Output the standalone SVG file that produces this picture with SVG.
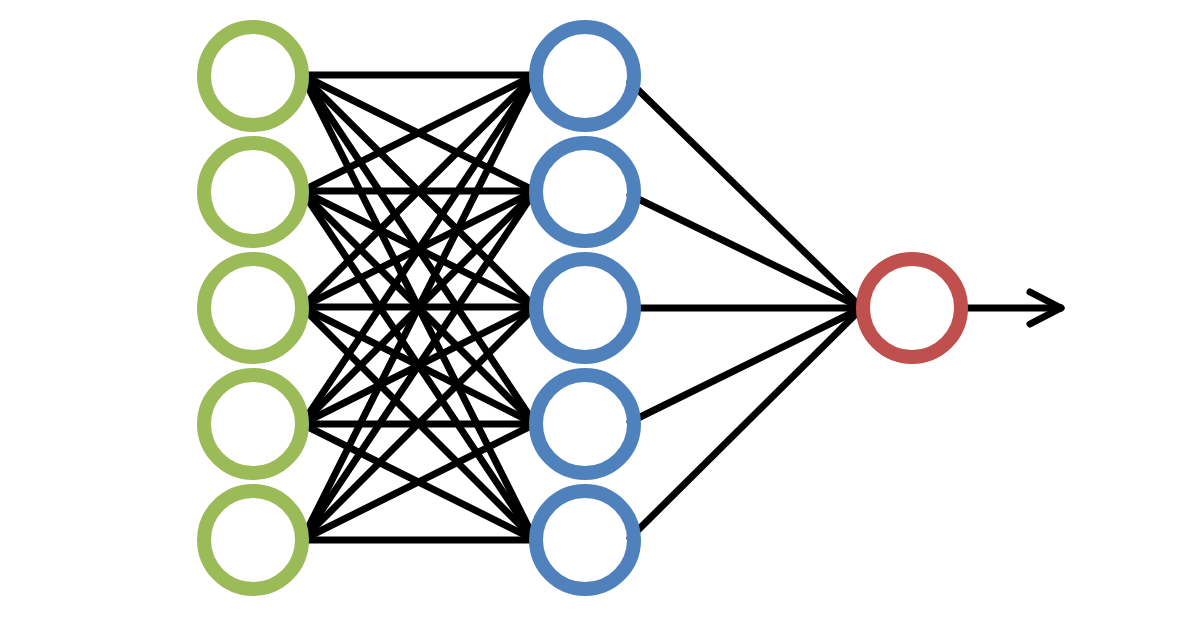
<svg xmlns="http://www.w3.org/2000/svg" width="1200" height="625" viewBox="0 0 1200 625">
<style>
.n{fill:none;stroke-width:14}
.g{stroke:#9bbb59}.b{stroke:#4f81bd}.r{stroke:#c0504d}
#edges line{stroke:#000;stroke-width:7;stroke-linecap:round}
</style>
<rect width="1200" height="625" fill="#fff"/>
<g id="edges">
<line x1="302" y1="75" x2="535" y2="75"/><line x1="302" y1="75" x2="535" y2="191"/><line x1="302" y1="75" x2="535" y2="307"/><line x1="302" y1="75" x2="535" y2="424"/><line x1="302" y1="75" x2="535" y2="540"/>
<line x1="302" y1="191" x2="535" y2="75"/><line x1="302" y1="191" x2="535" y2="191"/><line x1="302" y1="191" x2="535" y2="307"/><line x1="302" y1="191" x2="535" y2="424"/><line x1="302" y1="191" x2="535" y2="540"/>
<line x1="302" y1="307" x2="535" y2="75"/><line x1="302" y1="307" x2="535" y2="191"/><line x1="302" y1="307" x2="535" y2="307"/><line x1="302" y1="307" x2="535" y2="424"/><line x1="302" y1="307" x2="535" y2="540"/>
<line x1="302" y1="424" x2="535" y2="75"/><line x1="302" y1="424" x2="535" y2="191"/><line x1="302" y1="424" x2="535" y2="307"/><line x1="302" y1="424" x2="535" y2="424"/><line x1="302" y1="424" x2="535" y2="540"/>
<line x1="302" y1="540" x2="535" y2="75"/><line x1="302" y1="540" x2="535" y2="191"/><line x1="302" y1="540" x2="535" y2="307"/><line x1="302" y1="540" x2="535" y2="424"/><line x1="302" y1="540" x2="535" y2="540"/>
<line x1="630" y1="82" x2="862" y2="308"/><line x1="630" y1="195" x2="862" y2="308"/><line x1="632" y1="308" x2="862" y2="308"/><line x1="630" y1="422" x2="862" y2="308"/><line x1="630" y1="538" x2="862" y2="308"/>
<line x1="964" y1="308" x2="1060" y2="308"/><line x1="1030" y1="292" x2="1061" y2="308"/><line x1="1030" y1="324" x2="1061" y2="308"/>
</g>
<g id="in1"><circle class="n g" cx="253" cy="76" r="49"/></g>
<g id="in2"><circle class="n g" cx="253" cy="192" r="49"/></g>
<g id="in3"><circle class="n g" cx="253" cy="308" r="49"/></g>
<g id="in4"><circle class="n g" cx="253" cy="424" r="49"/></g>
<g id="in5"><circle class="n g" cx="253" cy="540" r="49"/></g>
<g id="h1"><circle class="n b" cx="585" cy="76" r="49"/></g>
<g id="h2"><circle class="n b" cx="585" cy="192" r="49"/></g>
<g id="h3"><circle class="n b" cx="585" cy="308" r="49"/></g>
<g id="h4"><circle class="n b" cx="585" cy="424" r="49"/></g>
<g id="h5"><circle class="n b" cx="585" cy="540" r="49"/></g>
<g id="out"><circle class="n r" cx="912" cy="308" r="49"/></g>
</svg>
